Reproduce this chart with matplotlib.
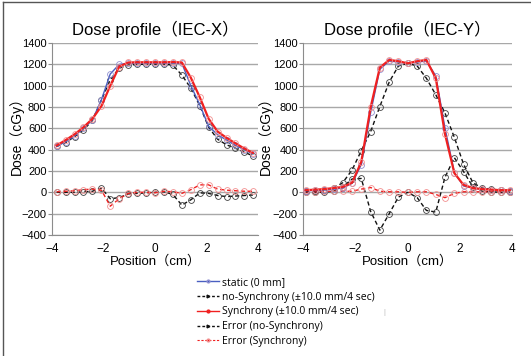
import matplotlib
matplotlib.use("Agg")
import matplotlib.pyplot as plt
from matplotlib.lines import Line2D

plt.rcParams["font.family"] = ["Liberation Sans", "Noto Sans CJK JP", "DejaVu Sans"]

# positions (cm)
x_iecx = [-3.82, -3.47, -3.12, -2.78, -2.43, -2.08, -1.74, -1.39, -1.04, -0.69, -0.35, 0.0,
          0.35, 0.69, 1.04, 1.39, 1.74, 2.08, 2.43, 2.78, 3.12, 3.47, 3.80]
x_iecy = [-3.90, -3.55, -3.20, -2.84, -2.49, -2.13, -1.78, -1.42, -1.07, -0.71, -0.36, 0.0,
          0.36, 0.71, 1.07, 1.42, 1.78, 2.13, 2.49, 2.84, 3.20, 3.55, 3.90]

# IEC-X dose (cGy)
x_static = [430, 475, 530, 600, 680, 870, 1110, 1200, 1210, 1212, 1212, 1212,
            1212, 1212, 1210, 1000, 820, 620, 540, 490, 440, 400, 360]
x_nosync = [430, 467, 523, 586, 674, 868, 1056, 1165, 1193, 1200, 1202, 1202,
            1202, 1193, 1100, 977, 811, 611, 498, 445, 414, 376, 342]
x_sync = [440, 490, 545, 610, 690, 810, 1000, 1180, 1218, 1220, 1220, 1220,
          1220, 1222, 1218, 1075, 890, 690, 570, 510, 460, 410, 370]
x_err_nosync = [0, 0, 0, 5, 10, 40, -60, -50, -15, -10, -5, 0,
                5, -20, -120, -70, -5, -10, -30, -40, -35, -30, -25]
x_err_sync = [5, 10, 15, 25, 30, 20, -130, -60, -10, 0, 0, -5,
              10, 5, -10, 25, 70, 70, 30, 20, 15, 10, 10]

# IEC-Y dose (cGy)
y_static = [15, 18, 22, 30, 40, 85, 260, 750, 1155, 1232, 1222, 1210,
            1222, 1232, 1092, 605, 185, 60, 40, 30, 25, 20, 15]
y_nosync = [10, 15, 25, 40, 90, 210, 390, 570, 805, 1035, 1185, 1210,
            1185, 1070, 915, 745, 515, 265, 90, 40, 30, 20, 15]
y_sync = [20, 25, 30, 40, 50, 90, 285, 800, 1170, 1242, 1230, 1210,
          1230, 1242, 1070, 548, 180, 70, 40, 30, 25, 20, 20]
y_err_nosync = [0, 0, 0, 10, 50, 125, 130, -180, -355, -200, -45, 0,
                -50, -170, -185, 140, 325, 195, 50, 10, 5, 0, 0]
y_err_sync = [5, 5, 8, 10, 10, 10, 30, 45, 10, 5, 5, 0,
              5, 5, -20, -50, -10, 5, 5, 5, 5, 5, 5]

labels = ["static (0 mm]", "no-Synchrony (\u00b110.0 mm/4 sec)", "Synchrony (\u00b110.0 mm/4 sec)",
          "Error (no-Synchrony)", "Error (Synchrony)"]
titles = ["Dose profile\uff08IEC-X\uff09", "Dose profile\uff08IEC-Y\uff09"]

BLUE = "#4a5fc1"
BLUE_M = "#9090d0"
RED = "#f02020"
RED_M = "#f29090"
BLACK = "#101010"
BLACK_M = "#404040"

fig = plt.figure(figsize=(5.31, 3.56), dpi=100)
ax1 = fig.add_axes([0.098, 0.340, 0.388, 0.539])
ax2 = fig.add_axes([0.571, 0.340, 0.394, 0.539])

data = [
    (ax1, x_iecx, x_static, x_nosync, x_sync, x_err_nosync, x_err_sync, titles[0], -0.136),
    (ax2, x_iecy, y_static, y_nosync, y_sync, y_err_nosync, y_err_sync, titles[1], -0.143),
]

mk = dict(marker="o", markersize=4.2, markerfacecolor="none", markeredgewidth=0.6)
for ax, xs, st, ns, sy, en, es, title, ylx in data:
    ax.plot(xs, en, color=BLACK, lw=1.0, dashes=(3, 2), markeredgecolor=BLACK_M, **mk, zorder=3)
    ax.plot(xs, es, color=RED, lw=1.0, dashes=(3, 2), markeredgecolor=RED_M, **mk, zorder=3)
    ax.plot(xs, ns, color=BLACK, lw=1.0, dashes=(3, 2), markeredgecolor=BLACK_M, **mk, zorder=3)
    ax.plot(xs, st, color=BLUE, lw=1.0, markeredgecolor=BLUE_M, **mk, zorder=4)
    ax.plot(xs, sy, color=RED, lw=1.6, markeredgecolor=RED_M, **mk, zorder=5)

    ax.set_xlim(-4, 4)
    ax.set_ylim(-400, 1400)
    ax.set_xticks([-4, -2, 0, 2, 4])
    ax.set_yticks(range(-400, 1401, 200))
    ax.grid(axis="y", color="#a8a8a8", lw=1.0)
    ax.set_axisbelow(True)
    for s in ["top", "right"]:
        ax.spines[s].set_visible(False)
    for s in ["left", "bottom"]:
        ax.spines[s].set_color("#8c8c8c")
    ax.tick_params(axis="y", labelsize=8, length=3, color="#8c8c8c", pad=1)
    ax.tick_params(axis="x", labelsize=8.5, length=0, pad=6)
    ax.set_title(title, fontsize=12, pad=6)
    ax.set_xlabel("Position\uff08cm\uff09", fontsize=9.5, labelpad=0)
    ax.set_ylabel("Dose\uff08cGy\uff09", fontsize=10)
    ax.yaxis.set_label_coords(ylx, 0.535)

handles = [
    Line2D([], [], color=BLUE, lw=1.0, marker="o", markersize=2, markeredgecolor=BLUE_M),
    Line2D([], [], color=BLACK, lw=1.0, dashes=(2, 1.5), marker=">", markersize=2),
    Line2D([], [], color=RED, lw=1.0, marker="o", markersize=2),
    Line2D([], [], color=BLACK, lw=1.0, dashes=(2, 1.5), marker=">", markersize=2),
    Line2D([], [], color=RED, lw=0.8, dashes=(2, 1.5), marker="o", markersize=2, markeredgecolor=RED_M),
]
fig.legend(handles, labels, loc="upper left", bbox_to_anchor=(0.371, 0.222),
           frameon=False, prop={"family": ["Open Sans", "DejaVu Sans"], "size": 7.5},
           handlelength=2.1, handletextpad=0.3,
           labelspacing=0.36, borderpad=0, borderaxespad=0)
fig.text(0.722, 0.118, "|", fontsize=5, color="#bbbbbb")

# outer frame (top and left edges)
fig.add_artist(Line2D([0.005, 1.0], [0.994, 0.994], color="#555555", lw=1.0))
fig.add_artist(Line2D([0.005, 0.005], [0.0, 0.994], color="#555555", lw=1.0))

fig.savefig("out.png", dpi=100)
